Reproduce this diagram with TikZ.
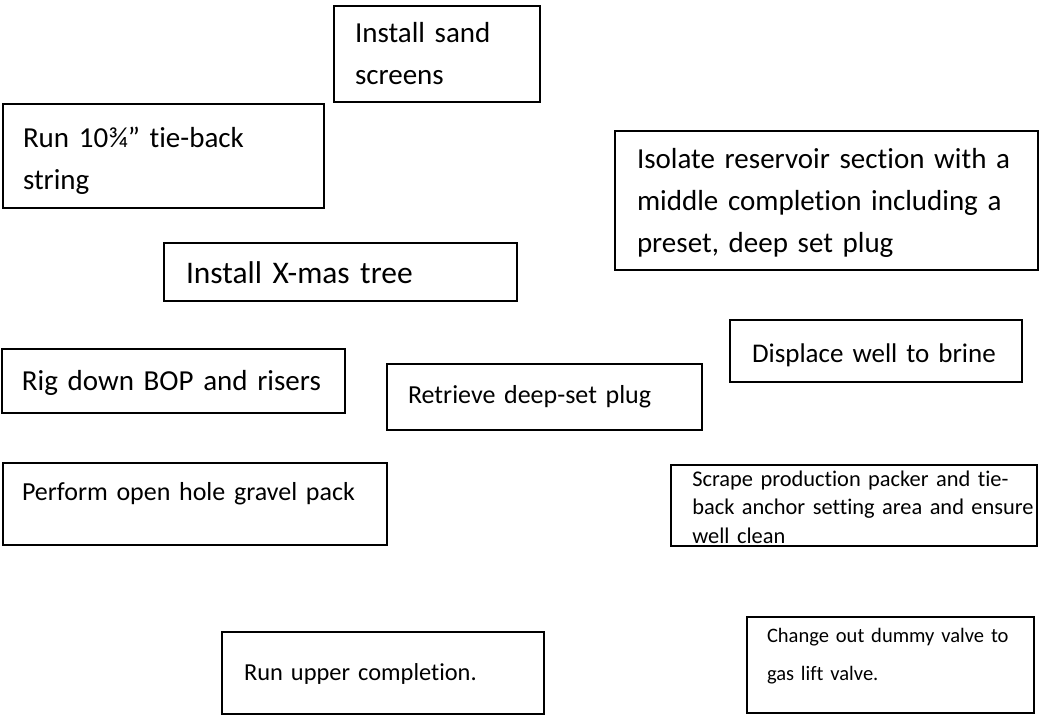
\documentclass[tikz,border=0pt]{standalone}
\usepackage{fontspec}
\setmainfont{Carlito}[Ligatures=NoCommon]
\usepackage{tikz}

\begin{document}
\begin{tikzpicture}[x=0.75pt,y=-0.75pt,
                    task node/.style={draw,line width=1pt,inner sep=0pt,outer sep=0pt,
                                      anchor=north west,align=left,
                                      execute at begin node={\leftskip=#1\hyphenpenalty=10000},
                                      font=\fontsize{21.75}{31.5}\selectfont},
                    task node/.default=15.75pt]
  \useasboundingbox (0,0) rectangle (1041,718);

  \node[task node,text width=154.5pt,text height=27pt,text depth=45pt]
    (sand) at (334,6) {Install sand\\screens};
  \node[task node=15pt,text width=240.75pt,text height=32.25pt,text depth=45.75pt]
    (tieback) at (3,104) {Run 10¾” tie-back\\string};
  \node[task node=16.5pt,text width=317.25pt,text height=27.75pt,text depth=76.5pt]
    (isolate) at (615,131) {Isolate reservoir section with a\\middle completion including a\\preset, deep set plug};
  \node[task node=16.5pt,text width=264.75pt,text height=30pt,text depth=13.5pt,
        font=\fontsize{23.6}{30}\selectfont]
    (xmas) at (164,243) {Install X-mas tree};
  \node[task node=16.5pt,text width=219pt,text height=31.5pt,text depth=15pt,
        font=\fontsize{20.25}{28}\selectfont]
    (brine) at (730,320) {Displace well to brine};
  \node[task node=15pt,text width=257.25pt,text height=30.75pt,text depth=17.25pt]
    (bop) at (2,349) {Rig down BOP and risers};
  \node[task node,text width=236.25pt,text height=29.25pt,text depth=20.25pt,
        font=\fontsize{19.5}{26}\selectfont]
    (plug) at (387,364) {Retrieve deep-set plug};
  \node[task node=14.25pt,text width=288pt,text height=27.75pt,text depth=33.75pt,
        font=\fontsize{19.5}{26}\selectfont]
    (gravel) at (3,463) {Perform open hole gravel pack};
  \node[task node=16pt,text width=274.5pt,text height=15.75pt,text depth=45pt,
        font=\fontsize{16.8}{21.5}\selectfont]
    (scrape) at (671,465) {Scrape production packer and tie-\\back anchor setting area and ensure\\well clean};
  \node[task node=15pt,text width=215.25pt,text height=18.75pt,text depth=53.25pt,
        font=\fontsize{15.4}{29}\selectfont]
    (valve) at (747,617) {Change out dummy valve to\\gas lift valve.};
  \node[task node=16.5pt,text width=241.5pt,text height=36pt,text depth=25.5pt,
        font=\fontsize{18.3}{24}\selectfont]
    (upper) at (222,632) {Run upper completion.};
\end{tikzpicture}
\end{document}
